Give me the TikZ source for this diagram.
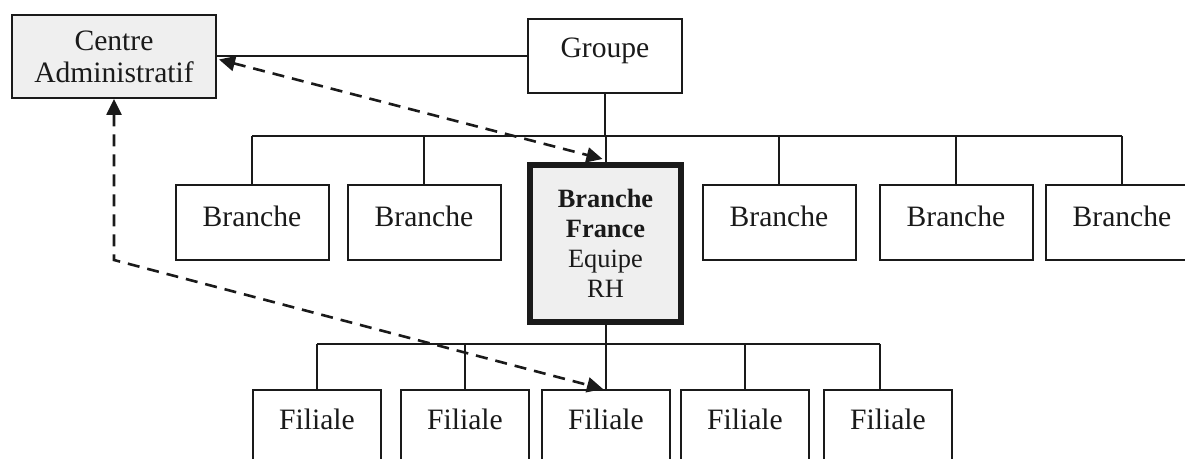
\documentclass[tikz,border=0pt]{standalone}
\usepackage{fontspec}
\setmainfont{Liberation Serif}
\usetikzlibrary{arrows.meta,calc}
\definecolor{boxgray}{HTML}{EFEFEF}
\definecolor{ink}{HTML}{1A1A1A}
\begin{document}
\begin{tikzpicture}[x=0.5pt,y=-0.5pt,
  every node/.style={font=\fontsize{14.8}{15.5}\selectfont, text=ink},
  box/.style={draw=ink, line width=1pt, rectangle, inner sep=0pt, fill=white},
  onel/.style={box, text height=9.8pt},
  groupebox/.style={onel, minimum width=77pt, minimum height=37pt, text depth=8pt},
  branchebox/.style={onel, minimum width=76.5pt, minimum height=37.5pt, text depth=6pt},
  filbox/.style={onel, minimum width=64pt, minimum height=40pt, text depth=10pt},
  conn/.style={draw=ink, line width=1pt},
  dasharrow/.style={draw=ink, line width=1.3pt, dash pattern=on 6pt off 4pt, {Triangle[length=8pt,width=7.5pt]}-{Triangle[length=8pt,width=7.5pt]}},
]
\useasboundingbox (0,0) rectangle (1185,459);
\fill[white] (0,0) rectangle (1185,459);
\clip (0,0) rectangle (1185,459);

% nodes
\node[box, fill=boxgray, minimum width=102pt, minimum height=41.5pt, align=center,
      font=\fontsize{14.8}{16}\selectfont, text depth=-2pt] (centre) at (114,56.5) {Centre\\Administratif};
\node[groupebox] (groupe) at (605,56) {Groupe};

\node[branchebox] (b1) at (252,222.5) {Branche};
\node[branchebox] (b2) at (424,222.5) {Branche};
\node[box, fill=boxgray, line width=3pt, minimum width=75.5pt, minimum height=78.5pt, align=center,
      font=\fontsize{13.2}{15}\selectfont] (bf) at (605.5,243.5)
      {\textbf{Branche}\\\textbf{France}\\Equipe\\RH};
\node[branchebox] (b4) at (779,222.5) {Branche};
\node[branchebox] (b5) at (956,222.5) {Branche};
\node[branchebox] (b6) at (1122,222.5) {Branche};

\node[filbox] (fil1) at (317,430) {Filiale};
\node[filbox] (fil2) at (465,430) {Filiale};
\node[filbox] (fil3) at (606,430) {Filiale};
\node[filbox] (fil4) at (745,430) {Filiale};
\node[filbox] (fil5) at (888,430) {Filiale};

% buses
\coordinate (busB) at (0,136);
\coordinate (filB) at (0,344);

\draw[conn] (groupe.west) -- (groupe.west -| centre.east);
\draw[conn] (groupe.south) -- (groupe.south |- busB);
\draw[conn] (b1.north |- busB) -- (b6.north |- busB);
\foreach \n in {b1,b2,bf,b4,b5,b6} \draw[conn] (\n.north |- busB) -- (\n.north);

\draw[conn] (bf.south) -- (bf.south |- filB);
\draw[conn] (fil1.north |- filB) -- ($(fil5.north |- filB)+(-8,0)$);
\foreach \n in {fil1,fil2,fil3,fil4} \draw[conn] (\n.north |- filB) -- (\n.north);
\draw[conn] ($(fil5.north |- filB)+(-8,0)$) -- ($(fil5.north)+(-8,0)$);

% dashed arrows
\coordinate (bend) at (114,260);
\draw[dasharrow] ($(centre.east)+(2,3)$) -- ($(bf.north)+(-3,-3)$);
\draw[dasharrow] (centre.south) -- (bend) -- ($(fil3.north)+(-3,0)$);
\end{tikzpicture}
\end{document}
